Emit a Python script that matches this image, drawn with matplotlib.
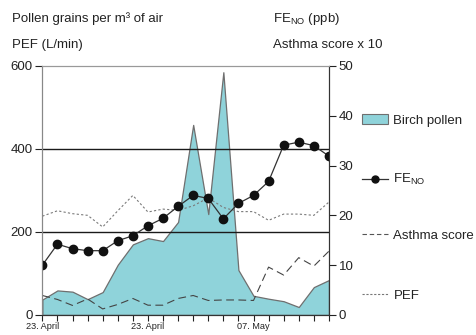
import numpy as np
import matplotlib.pyplot as plt
from matplotlib.lines import Line2D
from matplotlib.patches import Patch

plt.rcParams['font.family'] = ['Liberation Sans', 'DejaVu Sans']

days = np.arange(20)
tick_pos = [0, 7, 14]
tick_labels = ['23. April', '23. April', '07. May']

# left axis: pollen grains per m3, PEF (L/min)
pollen = [37, 59, 56, 38, 55, 121, 170, 185, 178, 224,
          458, 243, 585, 108, 46, 39, 33, 19, 67, 84]
pef = [238, 251, 244, 240, 212, 251, 288, 248, 255, 252,
       263, 282, 259, 249, 249, 228, 243, 243, 240, 272]

# right axis: FeNO (ppb), asthma score x 10
feno = [10.0, 14.2, 13.3, 12.9, 12.9, 14.9, 15.9, 17.9, 19.4, 21.8,
        24.0, 23.4, 19.3, 22.4, 24.0, 26.8, 34.1, 34.7, 34.0, 31.9]
asthma = [3.9, 3.1, 1.9, 3.2, 1.2, 2.1, 3.3, 1.95, 1.95, 3.3,
          3.9, 2.9, 3.0, 3.0, 2.9, 9.6, 8.0, 11.5, 9.8, 12.8]

fig = plt.figure(figsize=(4.76, 3.35), dpi=100)
ax = fig.add_axes([0.089, 0.06, 0.602, 0.743])
ax2 = ax.twinx()

teal = '#8fd3da'
ax.fill_between(days, pollen, 0, facecolor=teal, edgecolor='#6f6f6f', lw=0.9, zorder=1)
for y in [200, 400]:
    ax.axhline(y, color='#1a1a1a', lw=1.0, zorder=2)
ax.plot(days, pef, color='#7a7a7a', lw=0.8, ls=(0, (2, 2)), zorder=3)

ax2.plot(days, asthma, color='#444444', lw=0.8, ls=(0, (7, 4)))
ax2.plot(days, feno, color='#333333', lw=0.9, marker='o', ms=6,
         mfc='#111111', mec='#111111')

ax.set_xlim(0, 19)
ax.set_ylim(0, 600)
ax2.set_ylim(0, 50)
ax.set_yticks([0, 200, 400, 600])
ax2.set_yticks([0, 10, 20, 30, 40, 50])
ax.set_xticks(days)
ax.set_xticklabels(['' for d in days])
for p, lab in zip(tick_pos, tick_labels):
    ax.text(p, -18, lab, ha='center', va='top', fontsize=6.6, color='#222222')

ax.tick_params(axis='y', labelsize=9.5, length=5, width=0.8, colors='#222222', pad=2)
ax.tick_params(axis='x', length=4.5, width=0.8, color='#222222')
ax2.tick_params(axis='y', labelsize=9.5, length=5, width=0.8, colors='#222222', pad=2)

for a in (ax, ax2):
    a.spines['top'].set_color('#999999')
    a.spines['left'].set_color('#888888')
    a.spines['right'].set_color('#333333')
    a.spines['bottom'].set_color('#333333')

fig.text(0.025, 0.935, 'Pollen grains per m\u00b3 of air', fontsize=9.5, color='#222222')
fig.text(0.025, 0.857, 'PEF (L/min)', fontsize=9.5, color='#222222')
fig.text(0.573, 0.935, r'FE$_{\mathregular{NO}}$ (ppb)', fontsize=9.5, color='#222222')
fig.text(0.573, 0.857, 'Asthma score x 10', fontsize=9.5, color='#222222')

entries = [
    (Patch(facecolor=teal, edgecolor='#6f6f6f', lw=0.8), 'Birch pollen', 0.64),
    (Line2D([], [], color='#333333', lw=0.9, marker='o', ms=5, mfc='#111111', mec='#111111'),
     r'FE$_{\mathregular{NO}}$', 0.463),
    (Line2D([], [], color='#555555', lw=0.8, ls=(0, (4, 2.5))), 'Asthma score', 0.296),
    (Line2D([], [], color='#777777', lw=0.8, ls=(0, (2, 1.5))), 'PEF', 0.117),
]
for h, lab, yy in entries:
    leg = fig.legend([h], [lab], loc='center left', bbox_to_anchor=(0.76, yy),
                     frameon=False, fontsize=9.5, handlelength=2.0,
                     handletextpad=0.4, borderaxespad=0, borderpad=0)
    for t in leg.get_texts():
        t.set_color('#222222')

fig.savefig('out.png', dpi=100)
